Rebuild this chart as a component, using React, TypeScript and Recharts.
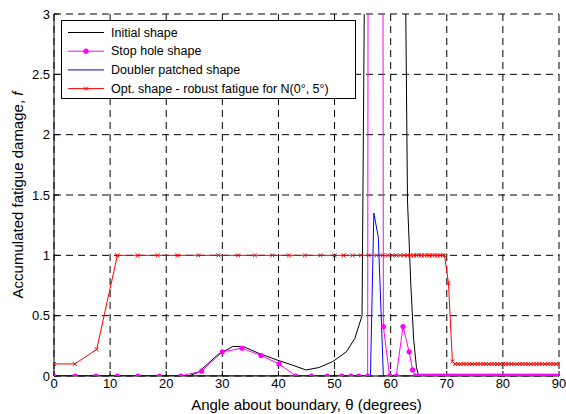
import { LineChart, Line, XAxis, YAxis, CartesianGrid, Label } from 'recharts';

const xTicks = [0, 10, 20, 30, 40, 50, 60, 70, 80, 90];
const yTicks = [0, 0.5, 1, 1.5, 2, 2.5, 3];

// Initial shape (black)
const initialAngle = [0, 24.0, 25.7, 29.3, 31.9, 33.7, 36.4, 39.9, 42.5, 44.9, 47.2, 49.7, 52.1, 53.6, 54.9, 56.0, 61.7, 62.4, 63.0, 63.6, 64.1, 64.6, 65.0, 90];
const initialF = [0, 0, 0.03, 0.18, 0.245, 0.245, 0.19, 0.13, 0.09, 0.05, 0.07, 0.12, 0.2, 0.31, 0.5, 7.5, 7, 4.5, 1.45, 0.75, 0.3, 0.07, 0, 0];

// Stop hole shape (magenta, dots)
const stopAngle = [0, 3.75, 7.5, 11.3, 15.0, 18.8, 22.6, 26.3, 30.0, 33.5, 36.9, 40.1, 43.1, 45.9, 48.7, 51.3, 52.9, 54.3, 55.9, 57.2, 58.7, 59.8, 61.0, 62.2, 63.3, 63.9, 64.4,
  65.0, 65.5, 66.0, 66.5, 67.0, 67.5, 68.0, 68.5, 69.0, 69.5, 70.0, 70.5, 71.0, 71.5, 72.0, 72.5, 73.0, 73.5, 74.0, 74.5, 75.0, 75.5, 76.0, 76.5, 77.0, 77.5,
  78.0, 78.5, 79.0, 79.5, 80.0, 80.5, 81.0, 81.5, 82.0, 82.5, 83.0, 83.5, 84.0, 84.5, 85.0, 85.5, 86.0, 86.5, 87.0, 87.5, 88.0, 88.5, 89.0, 89.5, 90.0];
const stopF = [0, 0, 0, 0, 0, 0, 0, 0.04, 0.2, 0.23, 0.17, 0.1, 0, 0, 0, 0, 0, 0, 0, 60, 0.41, 0, 0, 0.41, 0.2, 0.05, 0,
  0, 0, 0, 0, 0, 0, 0, 0, 0, 0, 0, 0, 0, 0, 0, 0, 0, 0, 0, 0, 0, 0, 0, 0, 0, 0,
  0, 0, 0, 0, 0, 0, 0, 0, 0, 0, 0, 0, 0, 0, 0, 0, 0, 0, 0, 0, 0, 0, 0, 0, 0];

// Doubler patched shape (blue)
const doublerAngle = [0, 56.4, 57.0, 57.8, 58.7, 90];
const doublerF = [0, 0, 1.35, 1.15, 0, 0];

// Opt. shape - robust fatigue (red, crosses)
const optAngle = [0, 3.7, 7.6, 11.3, 14.9, 18.5, 22.0, 25.7, 29.3, 32.8, 35.8, 38.9, 41.9, 44.7, 47.5, 50.0, 51.6, 53.2, 54.7, 56.1, 57.5, 58.6, 59.5, 60.3,
  61.0, 61.7, 62.4, 63.0, 63.6, 64.1, 64.6, 65.0, 65.5, 66.0, 66.5, 66.9, 67.4, 67.9, 68.3, 68.8, 69.3, 69.6, 70.3, 71.0,
  71.5, 72.0, 72.5, 73.0, 73.5, 74.0, 74.5, 75.0, 75.5, 76.0, 76.5, 77.0, 77.5, 78.0, 78.5, 79.0, 79.5, 80.0, 80.5,
  81.0, 81.5, 82.0, 82.5, 83.0, 83.5, 84.0, 84.5, 85.0, 85.5, 86.0, 86.5, 87.0, 87.5, 88.0, 88.5, 89.0, 89.5, 90.0];
const optF = [0.1, 0.1, 0.22, 1, 1, 1, 1, 1, 1, 1, 1, 1, 1, 1, 1, 1, 1, 1, 1, 1, 1, 1, 1, 1,
  1, 1, 1, 1, 1, 1, 1, 1, 1, 1, 1, 1, 1, 1, 1, 1, 1, 1, 0.77, 0.12,
  0.1, 0.1, 0.1, 0.1, 0.1, 0.1, 0.1, 0.1, 0.1, 0.1, 0.1, 0.1, 0.1, 0.1, 0.1, 0.1, 0.1, 0.1, 0.1,
  0.1, 0.1, 0.1, 0.1, 0.1, 0.1, 0.1, 0.1, 0.1, 0.1, 0.1, 0.1, 0.1, 0.1, 0.1, 0.1, 0.1, 0.1, 0.1];

const zip = (xs: number[], ys: number[]) => xs.map((x, i) => ({ x, y: ys[i] }));

const initialData = zip(initialAngle, initialF);
const stopData = zip(stopAngle, stopF);
const doublerData = zip(doublerAngle, doublerF);
const optData = zip(optAngle, optF);

const FONT = '"Liberation Sans", Arial, sans-serif';

const MagentaDot = (p: any) => {
  if (p.cx == null || p.cy == null) return <g key={`m${p.index}`} />;
  return <circle key={`m${p.index}`} cx={p.cx} cy={p.cy} r={2.6} fill="#ff00ff" stroke="none" />;
};

const CrossDot = (p: any) => {
  if (p.cx == null || p.cy == null) return <g key={`r${p.index}`} />;
  const s = 2;
  return (
    <path
      key={`r${p.index}`}
      d={`M${p.cx - s},${p.cy - s}L${p.cx + s},${p.cy + s}M${p.cx - s},${p.cy + s}L${p.cx + s},${p.cy - s}`}
      stroke="#ff0000"
      strokeWidth={1}
      fill="none"
    />
  );
};

const YTitle = (props: any) => {
  const vb = props.viewBox || { x: 0, y: 14, width: 54, height: 362 };
  const cx = vb.x + 17;
  const cy = vb.y + vb.height / 2;
  return (
    <text x={cx} y={cy} transform={`rotate(-90 ${cx} ${cy})`} textAnchor="middle" dominantBaseline="central" fontSize={15} fill="#000">
      Accumulated fatigue damage, <tspan fontStyle="italic">f</tspan>
    </text>
  );
};

const legendRows = [
  { name: 'Initial shape', color: '#000000', mark: 'none' },
  { name: 'Stop hole shape', color: '#ff00ff', mark: 'dot' },
  { name: 'Doubler patched shape', color: '#0000ff', mark: 'none' },
  { name: 'Opt. shape - robust fatigue for N(0\u00b0, 5\u00b0)', color: '#ff0000', mark: 'cross' },
];

function LegendBox() {
  return (
    <div style={{ position: 'absolute', left: 61, top: 20, width: 295, height: 79, border: '1px solid #000', background: '#fff', boxSizing: 'border-box' }}>
      <svg width={293} height={77} style={{ display: 'block' }}>
        {legendRows.map((r, i) => {
          const y = 11.5 + i * 18.7;
          return (
            <g key={r.name}>
              <line x1={6} x2={42} y1={y} y2={y} stroke={r.color} strokeWidth={1} />
              {r.mark === 'dot' && <circle cx={24} cy={y} r={2.6} fill={r.color} />}
              {r.mark === 'cross' && (
                <path d={`M22,${y - 2}L26,${y + 2}M22,${y + 2}L26,${y - 2}`} stroke={r.color} strokeWidth={1} />
              )}
              <text x={49} y={y} dominantBaseline="central" fontSize={12.5} fill="#000" fontFamily={FONT}>
                {r.name}
              </text>
            </g>
          );
        })}
      </svg>
    </div>
  );
}

export default function App() {
  const tickStyle = { fontSize: 13, fill: '#000', fontFamily: FONT };
  return (
    <div style={{ position: 'relative', width: 566, height: 414, fontFamily: FONT, background: '#fff' }}>
      <style>{'body{margin:0}'}</style>
      <LineChart width={566} height={414} margin={{ top: 14, right: 7, bottom: 0, left: 0 }}>
        <CartesianGrid
          xAxisId="bottom"
          yAxisId="left"
          stroke="#000"
          strokeDasharray="7 5"
          horizontalValues={yTicks}
          verticalValues={xTicks}
        />
        <XAxis
          xAxisId="bottom"
          dataKey="x"
          type="number"
          domain={[0, 90]}
          ticks={xTicks}
          allowDataOverflow
          height={38}
          stroke="#000"
          tickSize={-5}
          tickMargin={8}
          tick={tickStyle}
          interval={0}
        >
          <Label value={'Angle about boundary, \u03b8 (degrees)'} position="insideBottom" offset={4} fontSize={15} fill="#000" />
        </XAxis>
        <XAxis xAxisId="top" orientation="top" dataKey="x" type="number" domain={[0, 90]} ticks={xTicks} height={0} stroke="#000" tickSize={-5} tick={false} />
        <YAxis
          yAxisId="left"
          type="number"
          domain={[0, 3]}
          ticks={yTicks}
          allowDataOverflow
          width={54}
          stroke="#000"
          tickSize={-5}
          tickMargin={9}
          tick={tickStyle}
          interval={0}
        >
          <Label content={<YTitle />} />
        </YAxis>
        <YAxis yAxisId="right" orientation="right" type="number" domain={[0, 3]} ticks={yTicks} allowDataOverflow width={0} stroke="#000" tickSize={-5} tick={false} />
        <Line xAxisId="bottom" yAxisId="left" data={initialData} dataKey="y" stroke="#000000" strokeWidth={1} dot={false} isAnimationActive={false} />
        <Line xAxisId="bottom" yAxisId="left" data={stopData} dataKey="y" stroke="#ff00ff" strokeWidth={1} dot={MagentaDot} isAnimationActive={false} />
        <Line xAxisId="bottom" yAxisId="left" data={doublerData} dataKey="y" stroke="#0000ff" strokeWidth={1} dot={false} isAnimationActive={false} />
        <Line xAxisId="bottom" yAxisId="left" data={optData} dataKey="y" stroke="#ff0000" strokeWidth={1} dot={CrossDot} isAnimationActive={false} />
      </LineChart>
      <LegendBox />
    </div>
  );
}
